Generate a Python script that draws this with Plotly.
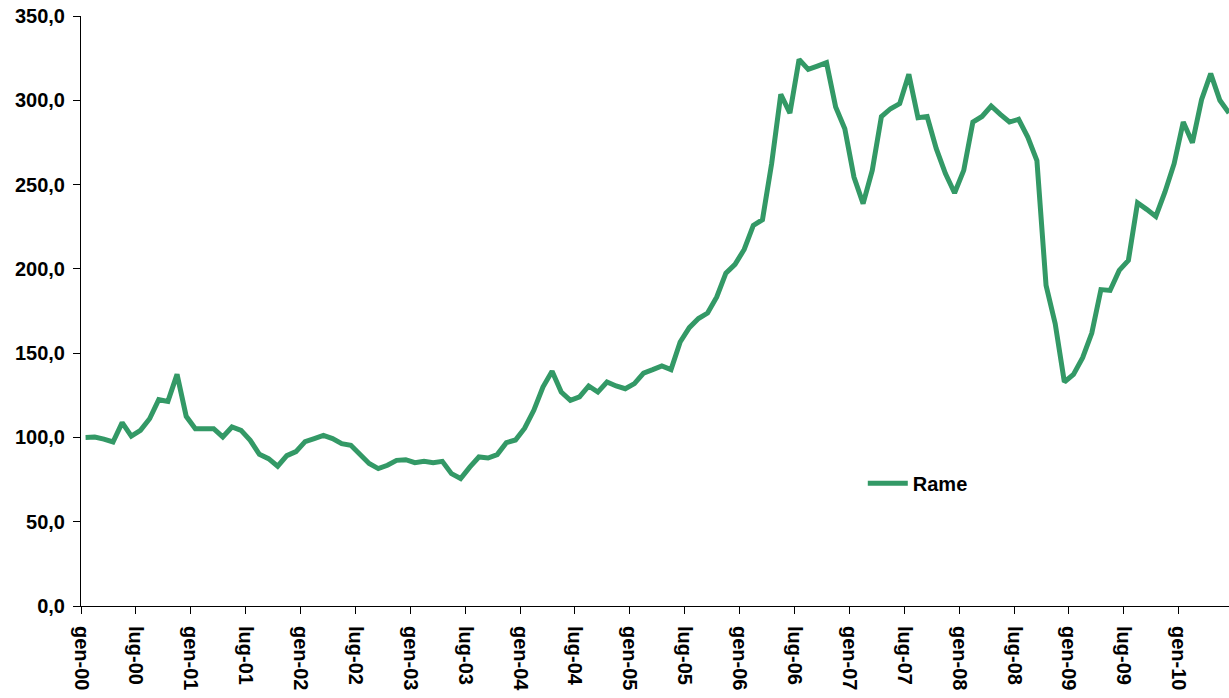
import numpy as np
import plotly.graph_objects as go

# Monthly index values, gen-00 .. giu-10
rame = [
    100.0, 100.2, 99.0, 97.3, 108.8, 100.8, 104.2, 111.1, 122.4, 121.4,
    137.4, 112.5, 105.2, 105.5, 105.2, 100.3, 106.2, 104.2, 98.3, 90.0,
    87.4, 82.9, 89.2, 91.6, 97.5, 99.3, 101.2, 99.3, 96.3, 95.3,
    89.4, 84.5, 81.5, 83.5, 86.4, 86.8, 85.0, 85.8, 85.0, 85.8,
    78.5, 75.6, 82.4, 88.4, 87.8, 89.8, 96.9, 98.5, 105.5, 116.1,
    129.9, 139.2, 126.9, 122.0, 124.0, 130.5, 126.9, 132.9, 130.5, 128.9,
    131.9, 138.2, 140.2, 142.4, 140.2, 156.6, 165.1, 170.5, 173.8, 183.3,
    197.5, 202.7, 211.5, 225.8, 229.2, 262.4, 303.5, 292.4, 324.3, 318.3,
    320.3, 322.3, 296.0, 283.1, 254.5, 238.7, 258.4, 290.4, 295.0, 298.0,
    315.4, 289.7, 290.4, 271.3, 256.5, 245.0, 258.4, 287.1, 290.4, 296.6,
    291.6, 287.1, 288.7, 278.2, 264.3, 190.2, 167.5, 132.9, 137.4, 147.3,
    161.9, 187.7, 187.2, 199.1, 205.0, 239.2, 235.3, 231.1, 245.6, 262.4,
    287.1, 274.8, 300.4, 315.8, 300.0, 292.4,
]

tick_labels = [
    "gen-00", "lug-00", "gen-01", "lug-01", "gen-02", "lug-02", "gen-03",
    "lug-03", "gen-04", "lug-04", "gen-05", "lug-05", "gen-06", "lug-06",
    "gen-07", "lug-07", "gen-08", "lug-08", "gen-09", "lug-09", "gen-10",
]
tick_months = list(range(0, 121, 6))
series_name = "Rame"

# each month plotted in the middle of its interval
months = np.arange(len(rame)) + 0.5

fig = go.Figure()
fig.add_trace(go.Scatter(
    x=months, y=rame, mode="lines", name=series_name,
    line=dict(color="#339966", width=5),
))

font_family = "Arial, 'Liberation Sans', sans-serif"

fig.update_layout(
    width=1229, height=698,
    margin=dict(l=81, r=0, t=16, b=92, autoexpand=False),
    paper_bgcolor="white", plot_bgcolor="white",
    separators=",.",
    font=dict(family=font_family, color="black"),
    showlegend=True,
    legend=dict(
        x=0.681, y=0.208, xanchor="left", yanchor="middle",
        itemwidth=40,
        font=dict(size=20, weight="bold", family=font_family, color="black"),
        bgcolor="rgba(0,0,0,0)",
    ),
    xaxis=dict(
        range=[0, len(rame) - 0.5],
        tickmode="array", tickvals=tick_months, ticktext=tick_labels,
        tickangle=90, automargin=False, ticklabeloverflow="allow",
        ticks="outside", ticklen=7, tickwidth=1, tickcolor="black",
        showline=True, linecolor="black", linewidth=1,
        showgrid=False, zeroline=False,
        tickfont=dict(size=20, weight="bold", family=font_family, color="black"),
        ticklabelstandoff=8,
    ),
    yaxis=dict(
        range=[0, 350], dtick=50, tick0=0, tickformat=".1f",
        automargin=False, ticklabeloverflow="allow",
        ticks="outside", ticklen=7, tickwidth=1, tickcolor="black",
        showline=True, linecolor="black", linewidth=1,
        showgrid=False, zeroline=False,
        tickfont=dict(size=20, weight="bold", family=font_family, color="black"),
        ticklabelstandoff=4,
    ),
)

# remove the default page margin so the figure fills the window exactly
fig.write_html(
    "out.html",
    config={"displayModeBar": False},
    post_script="document.body.style.margin='0';document.body.style.overflow='hidden';",
)
